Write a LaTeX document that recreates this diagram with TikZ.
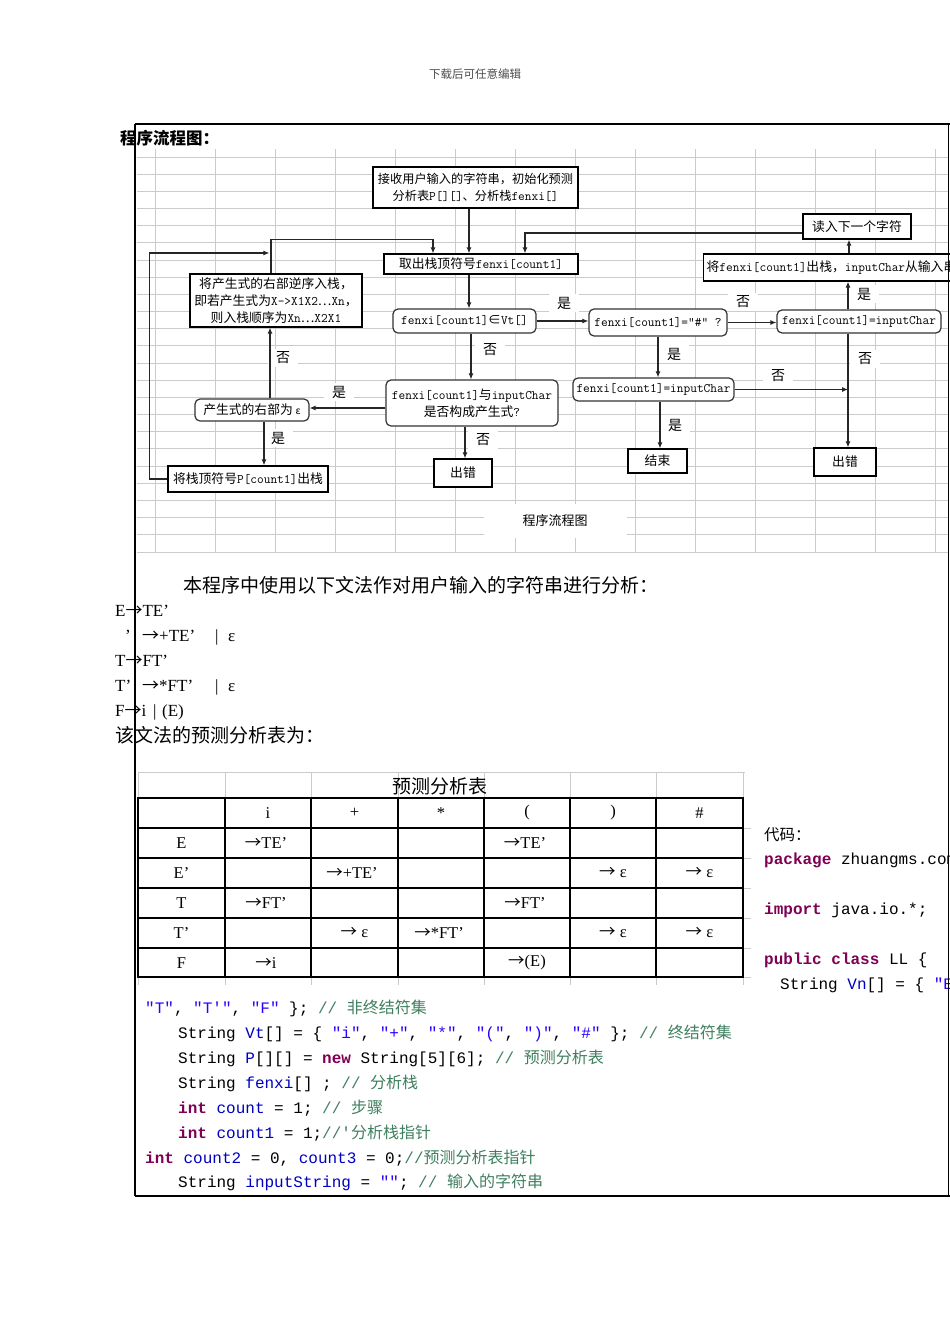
\documentclass[tikz,border=0pt]{standalone}
\usepackage{fontspec}
\usetikzlibrary{arrows.meta}
\newfontfamily\cjk{Noto Sans CJK SC}
\newfontfamily\cmono{Liberation Mono}[Ligatures=ResetAll]
\newfontfamily\tserif{Liberation Serif}
\definecolor{kwc}{HTML}{7F0055}
\definecolor{stc}{HTML}{2A00FF}
\definecolor{fdc}{HTML}{0000C0}
\definecolor{cmc}{HTML}{3F7F5F}
\definecolor{gridc}{HTML}{CBCBCB}
\newcommand\ltx[1]{{\ttfamily\fontsize{13}{17}\selectfont #1}}
\newcommand\flowfont{\cjk\fontsize{12.8}{17}\selectfont}
\newcommand\jkw[1]{{\color{kwc}\bfseries #1}}
\newcommand\jstr[1]{{\color{stc}#1}}
\newcommand\fdn[1]{{\color{fdc}#1}}
\newcommand\jcmt[2]{{\color{cmc}#1{\cjk #2}}}
\newcommand\ar{{\cjk →}}
\tikzset{
  bggrid/.style={draw=gridc, line width=0.8pt},
  fcbox/.style={draw=black, line width=1.3pt, fill=white, inner sep=0pt, align=center, font=\flowfont},
  fcrbox/.style={fcbox, rounded corners=5pt, draw=black!80, line width=1.2pt},
  fclbl/.style={fill=white, inner sep=0pt, minimum width=30pt, minimum height=18pt, font=\cjk\fontsize{14}{14}\selectfont},
  fcarr/.style={-{Latex[length=6pt,width=5pt]}, line width=1.1pt, draw=black!85},
  codeln/.style={anchor=base west, inner sep=0pt, font=\cmono\fontsize{16}{20}\selectfont},
  gramln/.style={anchor=base west, inner sep=0pt, font=\tserif\fontsize{17}{20}\selectfont},
  zhln/.style={anchor=base west, inner sep=0pt, font=\cjk\fontsize{19}{20}\selectfont},
  tcell/.style={inner sep=0pt, font=\tserif\fontsize{16.5}{18}\selectfont},
}
\begin{document}
\begin{tikzpicture}[x=1pt,y=-1pt]
\clip (0,0) rectangle (950,1344);
\fill[white] (0,0) rectangle (950,1344);

% header
\node[font=\cjk\fontsize{11.5}{12}\selectfont, text=black!70, inner sep=0pt] (hdr) at (475,74) {下载后可任意编辑};

% flowchart background grid
\foreach \x in {155,215,...,935} {\draw[bggrid] (\x,149) -- (\x,552);}
\foreach \i in {0,...,23} {\draw[bggrid] (137,{157+17.17*\i}) -- (948,{157+17.17*\i});}

% caption
\node[fill=white, minimum width=143pt, minimum height=34pt, inner sep=0pt, font=\cjk\fontsize{13}{14}\selectfont] (cap) at (555,521) {程序流程图};

% edge labels
\node[fclbl] (l1) at (564,303) {是};
\node[fclbl] (l2) at (743,302) {否};
\node[fclbl] (l3) at (864,294) {是};
\node[fclbl] (l4) at (865,359) {否};
\node[fclbl] (l5) at (674,354) {是};
\node[fclbl] (l6) at (778,376) {否};
\node[fclbl] (l7) at (675,425) {是};
\node[fclbl] (l8) at (490,350) {否};
\node[fclbl] (l9) at (339,392) {是};
\node[fclbl] (l10) at (483,440) {否};
\node[fclbl] (l11) at (278,438) {是};
\node[fclbl] (l12) at (283,358) {否};

% flowchart nodes
\node[fcbox, minimum width=205pt, minimum height=41pt, font=\cjk\fontsize{12.2}{17}\selectfont] (start) at (475.5,187.5) {接收用户输入的字符串，初始化预测\\分析表\ltx{P[][]}、分析栈\ltx{fenxi[]}};
\node[fcbox, minimum width=108pt, minimum height=25pt] (readnext) at (857,226.5) {读入下一个字符};
\node[fcbox, anchor=west, text width=294pt, inner xsep=3pt, minimum height=27pt, align=left] (popin) at (703,267.5) {将\ltx{fenxi[count1]}出栈，\ltx{inputChar}从输入串};
\node[fcbox, minimum width=194pt, minimum height=20pt] (take) at (481,264) {取出栈顶符号\ltx{fenxi[count1]}};
\node[fcbox, minimum width=172pt, minimum height=53pt] (push) at (276,300.5) {将产生式的右部逆序入栈，\\即若产生式为\ltx{X->X1X2}…\ltx{Xn}，\\则入栈顺序为\ltx{Xn}…\ltx{X2X1}};
\node[fcrbox, minimum width=143pt, minimum height=24pt] (vt) at (464.5,321) {\ltx{fenxi[count1]}∈\ltx{Vt[]}};
\node[fcrbox, minimum width=138pt, minimum height=27pt] (hash) at (658,322.5) {\ltx{fenxi[count1]="\#" ?}};
\node[fcrbox, minimum width=164pt, minimum height=23pt] (eqR) at (859,321.5) {\ltx{fenxi[count1]=inputChar}};
\node[fcrbox, minimum width=172pt, minimum height=46pt] (prod) at (472,403) {\ltx{fenxi[count1]}与\ltx{inputChar}\\是否构成产生式\ltx{?}};
\node[fcrbox, minimum width=114pt, minimum height=22pt] (eps) at (252,410) {产生式的右部为 {\fontsize{10}{10}\selectfont ε}};
\node[fcbox, minimum width=160pt, minimum height=26pt] (poptop) at (248,479) {将栈顶符号\ltx{P[count1]}出栈};
\node[fcbox, minimum width=58pt, minimum height=28pt] (err1) at (463,473) {出错};
\node[fcrbox, minimum width=161pt, minimum height=23pt] (eqM) at (653.5,389.5) {\ltx{fenxi[count1]=inputChar}};
\node[fcbox, minimum width=59pt, minimum height=24pt] (fin) at (657.5,461) {结束};
\node[fcbox, minimum width=62pt, minimum height=28pt] (err2) at (845,462) {出错};

% helper coordinates
\coordinate (sA) at ([xshift=-6.5pt]start.south);
\coordinate (rA) at ([xshift=-8pt]readnext.south);
\coordinate (rup) at ([xshift=-11pt]eqR.north);
\coordinate (rdown) at ([xshift=-11pt]eqR.south);
\coordinate (tB) at ([xshift=-12pt]take.south);
\coordinate (vB) at ([xshift=6.5pt]vt.south);
\coordinate (mB) at ([xshift=6.5pt]eqM.south);
\coordinate (pB) at ([xshift=-7pt]prod.south);
\coordinate (eB) at ([xshift=12pt]eps.south);
\coordinate (eT) at ([xshift=18pt]eps.north);
\coordinate (puT) at ([xshift=-5pt]push.north);

% connectors
\draw[fcarr] (sA) -- (sA |- take.north);
\draw[fcarr] ([yshift=-6.5pt]readnext.west) -| ([xshift=44pt]take.north);
\draw[fcarr] (rA |- popin.north) -- (rA);
\draw[fcarr] (rup) -- (rup |- popin.south);
\draw[fcarr] (tB) -- (tB |- vt.north);
\draw[fcarr] (vt.east) -- (vt.east -| hash.west);
\draw[fcarr] (hash.east) -- (hash.east -| eqR.west);
\draw[fcarr] (hash.south) -- (hash.south |- eqM.north);
\draw[fcarr] (mB) -- (mB |- fin.north);
\draw[fcarr] (eqM.east) -- (eqM.east -| rdown);
\draw[fcarr] (rdown) -- (rdown |- err2.north);
\draw[fcarr] (vB) -- (vB |- prod.north);
\draw[fcarr] ([yshift=-5pt]prod.west) -- ([yshift=-5pt]prod.west -| eps.east);
\draw[fcarr] (pB) -- (pB |- err1.north);
\draw[fcarr] (eB) -- (eB |- poptop.north);
\draw[fcarr] (eT) -- (eT |- push.south);
\draw[fcarr] (puT) -- ++(0,-34) -| ([xshift=-48pt]take.north);
\draw[fcarr] (poptop.west) -- ++(-18,0) -- ++(0,-226) -- ++(120,0);

% heading
\node[anchor=base west, inner sep=0pt, font=\cjk\bfseries\fontsize{16.5}{18}\selectfont] (h1) at (120,144) {程序流程图：};

% grammar text
\node[zhln] (intro) at (183,592) {本程序中使用以下文法作对用户输入的字符串进行分析：};
\node[gramln] (g1) at (115,616) {E\ar TE’};
\node[gramln] (g2a) at (125,641) {’};
\node[gramln] (g2b) at (142,641) {\ar+TE’};
\node[gramln] (g2c) at (215,641) {|};
\node[gramln] (g2d) at (228,641) {ε};
\node[gramln] (g3) at (115,666) {T\ar FT’};
\node[gramln] (g4a) at (115,691) {T’};
\node[gramln] (g4b) at (142,691) {\ar*FT’};
\node[gramln] (g4c) at (215,691) {|};
\node[gramln] (g4d) at (228,691) {ε};
\node[gramln] (g5a) at (115,716) {F\ar i};
\node[gramln] (g5b) at (153,716) {|};
\node[gramln] (g5c) at (162,716) {(E)};
\node[zhln] (g6) at (115,742) {该文法的预测分析表为：};

% table background grid
\foreach \x in {138,225,311,398,484,570,656,743} {\draw[bggrid] (\x,772) -- (\x,985);}
\draw[bggrid] (138,772) -- (745,772);
\foreach \y in {828,858,888,918,948,977} {\draw[bggrid] (743,\y) -- (751,\y);}
% table
\draw[line width=1.2pt] (138,798) rectangle (743,977);
\foreach \y in {828,858,888,918,948} {\draw[line width=1.2pt] (138,\y) -- (743,\y);}
\foreach \x in {225,311,398,484,570,656} {\draw[line width=1.2pt] (\x,798) -- (\x,977);}
\node[inner sep=0pt, font=\cjk\fontsize{19}{20}\selectfont] (ttl) at (440,786) {预测分析表};
% header row
\node[tcell] (h-i) at (268,813) {i};
\node[tcell] (h-p) at (354.5,813) {+};
\node[tcell] (h-s) at (441,813) {*};
\node[tcell] (h-l) at (527,813) {(};
\node[tcell] (h-r) at (613,813) {)};
\node[tcell] (h-h) at (699.5,813) {\#};
% row labels
\node[tcell] (r-1) at (181.5,843) {E};
\node[tcell] (r-2) at (181.5,873) {E’};
\node[tcell] (r-3) at (181.5,903) {T};
\node[tcell] (r-4) at (181.5,933) {T’};
\node[tcell] (r-5) at (181.5,963) {F};
% cells
\node[tcell] (c-1-1) at (266,843) {\ar TE’};
\node[tcell] (c-1-4) at (525,843) {\ar TE’};
\node[tcell] (c-2-2) at (352,873) {\ar+TE’};
\node[tcell] (c-2-5) at (613,873) {\ar\ ε};
\node[tcell] (c-2-6) at (699.5,873) {\ar\ ε};
\node[tcell] (c-3-1) at (266,903) {\ar FT’};
\node[tcell] (c-3-4) at (525,903) {\ar FT’};
\node[tcell] (c-4-2) at (354.5,933) {\ar\ ε};
\node[tcell] (c-4-3) at (439,933) {\ar*FT’};
\node[tcell] (c-4-5) at (613,933) {\ar\ ε};
\node[tcell] (c-4-6) at (699.5,933) {\ar\ ε};
\node[tcell] (c-5-1) at (266,963) {\ar i};
\node[tcell] (c-5-4) at (527,963) {\ar(E)};

% code
\node[zhln, font=\cjk\fontsize{15.5}{18}\selectfont] (dm) at (764,840) {代码：};
\node[codeln] (k1) at (764,864) {\jkw{package} zhuangms.com};
\node[codeln] (k2) at (764,914) {\jkw{import} java.io.*;};
\node[codeln] (k3) at (764,964) {\jkw{public} \jkw{class} LL \{};
\node[codeln] (k4) at (780,989) {String \fdn{Vn}[] = \{ \jstr{"E"},};
\node[codeln] (k5) at (145,1013) {\jstr{"T"}, \jstr{"T'"}, \jstr{"F"} \}; \jcmt{// }{非终结符集}};
\node[codeln] (k6) at (178,1038) {String \fdn{Vt}[] = \{ \jstr{"i"}, \jstr{"+"}, \jstr{"*"}, \jstr{"("}, \jstr{")"}, \jstr{"\#"} \}; \jcmt{// }{终结符集}};
\node[codeln] (k7) at (178,1063) {String \fdn{P}[][] = \jkw{new} String[5][6]; \jcmt{// }{预测分析表}};
\node[codeln] (k8) at (178,1088) {String \fdn{fenxi}[] ; \jcmt{// }{分析栈}};
\node[codeln] (k9) at (178,1113) {\jkw{int} \fdn{count} = 1; \jcmt{// }{步骤}};
\node[codeln] (k10) at (178,1138) {\jkw{int} \fdn{count1} = 1;\jcmt{//'}{分析栈指针}};
\node[codeln] (k11) at (145,1163) {\jkw{int} \fdn{count2} = 0, \fdn{count3} = 0;\jcmt{//}{预测分析表指针}};
\node[codeln] (k12) at (178,1187) {String \fdn{inputString} = \jstr{""}; \jcmt{// }{输入的字符串}};

% frame
\draw[line width=1.5pt] (135,124) -- (950,124);
\draw[line width=1pt] (948,124) -- (948,1196);
\draw[line width=1.5pt] (135,1196) -- (950,1196);
\draw[line width=2.5pt] (135,124) -- (135,1196);
\end{tikzpicture}
\end{document}
